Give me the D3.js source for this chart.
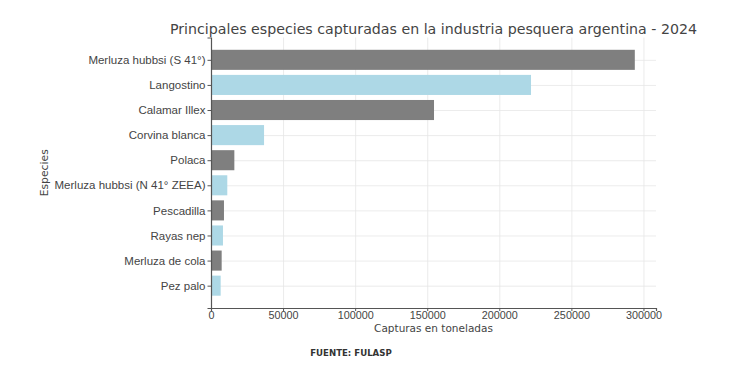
<!DOCTYPE html>
<html>
<head>
<meta charset="utf-8">
<script src="https://cdn.jsdelivr.net/npm/d3@7"></script>
<style>
  body { margin: 0; background: #fff; }
  svg { font-family: "DejaVu Sans", sans-serif; }
  .grid line { stroke: #e6e6e6; stroke-width: 0.8; }
  .grid path { display: none; }
</style>
</head>
<body>
<div id="chart"></div>
<script>
var especies = ["Merluza hubbsi (S 41°)", "Langostino", "Calamar Illex", "Corvina blanca", "Polaca",
  "Merluza hubbsi (N 41° ZEEA)", "Pescadilla", "Rayas nep", "Merluza de cola", "Pez palo"];
var capturas = [294000, 222000, 154700, 36800, 16200, 11300, 9000, 8300, 7400, 6700];
var colores = ["#7f7f7f", "#add8e6"];
var xTicks = [0, 50000, 100000, 150000, 200000, 250000, 300000];

var W = 730, H = 375;
var margin = { top: 37.5, right: 74, bottom: 67, left: 211 };
var width = W - margin.left - margin.right;
var height = H - margin.top - margin.bottom;

var svg = d3.select("#chart").append("svg")
  .attr("width", W)
  .attr("height", H);

var g = svg.append("g")
  .attr("transform", "translate(" + margin.left + "," + margin.top + ")");

var x = d3.scaleLinear()
  .domain([0, d3.max(capturas) * 1.05])
  .range([0, width]);

// linear y like matplotlib barh (bar height 0.8, 5% margins)
var n = especies.length;
var yLin = d3.scaleLinear().domain([-0.89, n - 1 + 0.89]).range([0, height]);
var bandH = yLin(0.8) - yLin(0);

// grid
g.append("g").attr("class", "grid")
  .attr("transform", "translate(0," + height + ")")
  .call(d3.axisBottom(x).tickValues(xTicks).tickSize(-height).tickFormat(""));
g.append("g").attr("class", "grid")
  .call(d3.axisLeft(yLin).tickValues(d3.range(n)).tickSize(-width).tickFormat(""));

g.selectAll("rect.bar")
  .data(capturas)
  .enter().append("rect")
  .attr("class", "bar")
  .attr("x", x(0))
  .attr("y", function (d, i) { return yLin(i) - bandH / 2; })
  .attr("width", function (d) { return x(d) - x(0); })
  .attr("height", bandH)
  .attr("fill", function (d, i) { return colores[i % 2]; });

var xAxis = g.append("g")
  .attr("transform", "translate(0," + height + ")")
  .call(d3.axisBottom(x).tickValues(xTicks).tickSize(3).tickPadding(0).tickFormat(d3.format("d")));

var yAxis = g.append("g")
  .call(d3.axisLeft(yLin).tickValues(d3.range(n)).tickSize(3.5).tickPadding(2)
    .tickFormat(function (i) { return especies[i]; }));

[xAxis, yAxis].forEach(function (a) {
  a.select(".domain").attr("stroke", "#555").attr("stroke-width", 1.2);
  a.selectAll(".tick line").attr("stroke", "#555");
  a.selectAll(".tick text").attr("fill", "#444").style("font-size", "11.5px");
});
xAxis.selectAll(".tick text").style("font-size", "10.8px");

svg.append("text")
  .attr("x", margin.left + width / 2)
  .attr("y", 34)
  .attr("text-anchor", "middle")
  .attr("fill", "#444")
  .style("font-size", "14.2px")
  .text("Principales especies capturadas en la industria pesquera argentina - 2024");

svg.append("text")
  .attr("x", margin.left + width / 2)
  .attr("y", 332)
  .attr("text-anchor", "middle")
  .attr("fill", "#444")
  .style("font-size", "10.5px")
  .text("Capturas en toneladas");

svg.append("text")
  .attr("transform", "translate(48," + (margin.top + height / 2) + ") rotate(-90)")
  .attr("text-anchor", "middle")
  .attr("fill", "#444")
  .style("font-size", "10.8px")
  .text("Especies");

svg.append("text")
  .attr("x", 351)
  .attr("y", 356)
  .attr("text-anchor", "middle")
  .attr("fill", "#333")
  .style("font-size", "8.6px")
  .style("font-weight", "bold")
  .text("FUENTE: FULASP");
</script>
</body>
</html>
